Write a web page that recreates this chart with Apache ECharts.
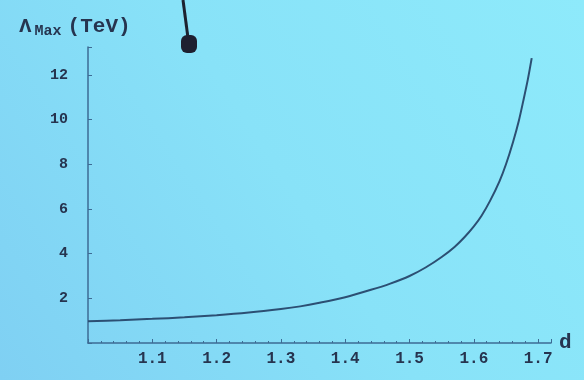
<!DOCTYPE html>
<html>
<head>
<meta charset="utf-8">
<script src="https://cdn.jsdelivr.net/npm/echarts@6/dist/echarts.min.js"></script>
<style>
  html, body { margin: 0; padding: 0; }
  #chart { width: 584px; height: 380px; }
</style>
</head>
<body>
<div id="chart"></div>
<script>
const dValues = [1.0, 1.05, 1.1, 1.15, 1.2, 1.25, 1.3, 1.33, 1.36, 1.4, 1.44, 1.47, 1.5, 1.525, 1.55, 1.57, 1.585, 1.6, 1.612, 1.625, 1.64, 1.65, 1.661, 1.67, 1.677, 1.684, 1.69];
const lambdaMax = [0.97, 1.02, 1.08, 1.15, 1.24, 1.36, 1.52, 1.64, 1.8, 2.05, 2.38, 2.66, 3.0, 3.38, 3.85, 4.3, 4.72, 5.22, 5.7, 6.35, 7.25, 8.0, 9.0, 9.95, 10.85, 11.8, 12.75];
const xTickLabels = ['1.1', '1.2', '1.3', '1.4', '1.5', '1.6', '1.7'];
const yTickLabels = ['2', '4', '6', '8', '10', '12'];

const textColor = '#26344f';
const axisColor = '#3d6b94';
const font = '"Liberation Mono", "DejaVu Sans Mono", monospace';

const chart = echarts.init(document.getElementById('chart'));

chart.setOption({
    backgroundColor: {
        type: 'linear', x: 1, y: 0, x2: 0, y2: 1,
        colorStops: [
            { offset: 0, color: '#8eeafb' },
            { offset: 0.5, color: '#88e2f8' },
            { offset: 1, color: '#7fd0f3' }
        ]
    },
    animation: false,
    title: {
        left: 14,
        top: 10,
        text: '{l|Λ}{s|Max}{u|(TeV)}',
        textStyle: {
            rich: {
                l: { fontFamily: font, fontSize: 21, fontWeight: 'bold', color: textColor },
                s: { fontFamily: font, fontSize: 15, fontWeight: 'bold', color: textColor, padding: [9, 6, 0, 3] },
                u: { fontFamily: font, fontSize: 21, fontWeight: 'bold', color: textColor }
            }
        }
    },
    // pen tip on the projected slide
    graphic: [
        { type: 'line', shape: { x1: 183, y1: 0, x2: 188, y2: 38 }, style: { stroke: '#1c2230', lineWidth: 3 } },
        { type: 'rect', shape: { x: 181, y: 35, width: 16, height: 18, r: 6 }, style: { fill: '#1e2030' } }
    ],
    grid: { left: 88, right: 33, top: 47, bottom: 37 },
    xAxis: {
        type: 'value',
        min: 1.0,
        max: 1.72,
        interval: 0.1,
        name: 'd',
        nameLocation: 'end',
        nameGap: 8,
        nameTextStyle: { fontFamily: font, fontSize: 21, fontWeight: 'bold', color: textColor, padding: [0, 0, 10, 0] },
        axisLine: { lineStyle: { color: axisColor, width: 1.5 } },
        axisTick: { inside: true, length: 4, lineStyle: { color: axisColor } },
        minorTick: { show: true, splitNumber: 5, length: 2, lineStyle: { color: axisColor } },
        splitLine: { show: false },
        axisLabel: {
            margin: 8,
            fontFamily: font,
            fontSize: 16,
            fontWeight: 'bold',
            color: textColor,
            formatter: v => {
                const s = v.toFixed(1);
                return xTickLabels.includes(s) ? s : '';
            }
        }
    },
    yAxis: {
        type: 'value',
        min: 0,
        max: 13.25,
        interval: 2,
        axisLine: { show: true, lineStyle: { color: axisColor, width: 1.5 } },
        axisTick: { show: true, inside: true, length: 4, lineStyle: { color: axisColor } },
        splitLine: { show: false },
        axisLabel: {
            margin: 20,
            fontFamily: font,
            fontSize: 15,
            fontWeight: 'bold',
            color: textColor,
            formatter: v => {
                const s = String(Math.round(v));
                return yTickLabels.includes(s) ? s : '';
            }
        }
    },
    series: [{
        type: 'line',
        data: dValues.map((d, i) => [d, lambdaMax[i]]),
        smooth: 0.3,
        showSymbol: false,
        lineStyle: { color: '#2c4f73', width: 2 }
    }]
});
</script>
</body>
</html>
